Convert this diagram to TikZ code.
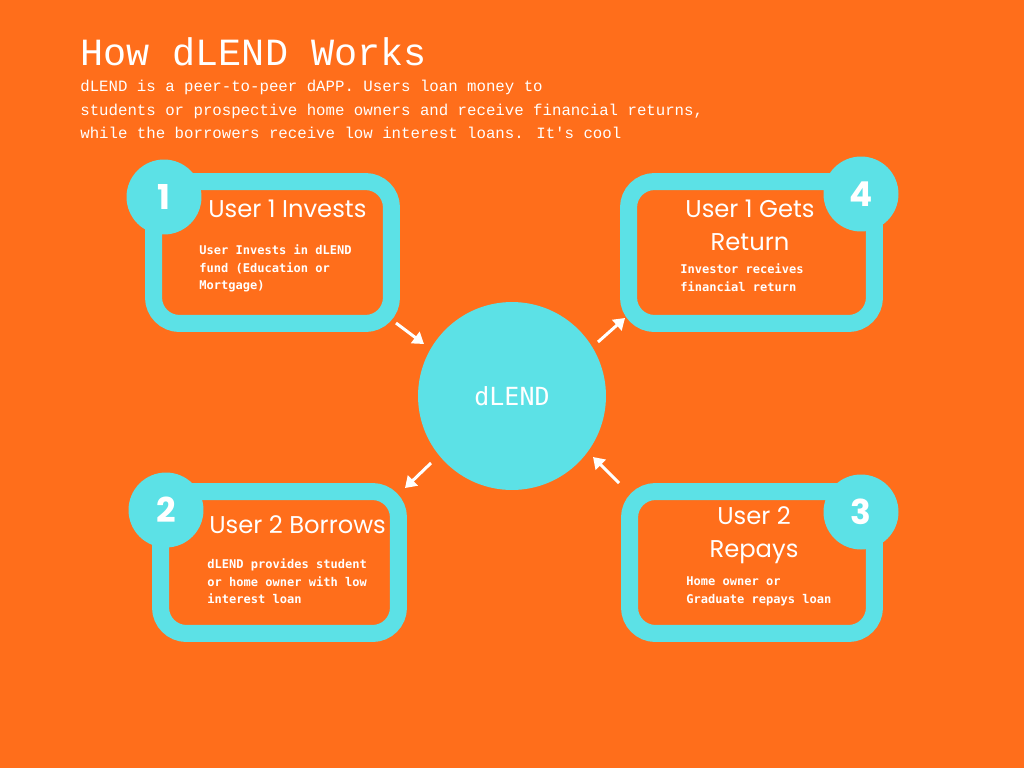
\documentclass[tikz,border=0pt]{standalone}
\usepackage{fontspec}
\setmainfont{Poppins}
\newfontfamily\headfont{Liberation Mono}
\newfontfamily\bodyfont{DejaVu Sans Mono}
\usetikzlibrary{arrows.meta}
\definecolor{dorange}{HTML}{FF6E1B}
\definecolor{dcyan}{HTML}{5CE1E6}

\begin{document}
\begin{tikzpicture}[x=0.02cm, y=-0.02cm,
    stepframe/.style={draw=dcyan, line width=0.34cm, rounded corners=0.52cm, minimum height=2.84cm},
    numdot/.style={circle, fill=dcyan, minimum size=1.5cm, inner sep=0pt, text=white,
                   font=\fontsize{19.5}{19.5}\selectfont\bfseries},
    steptitle/.style={text=white, inner sep=0pt, font=\fontsize{13.8}{18.7}\selectfont},
    stepbody/.style={text=white, inner sep=0pt, align=left, anchor=north west,
                     font=\bodyfont\bfseries\fontsize{6.85}{10.2}\selectfont},
    flow/.style={draw=white, line width=0.06cm, -{Triangle[length=0.22cm,width=0.28cm]}}]
  \fill[dorange] (0,0) rectangle (1024,768);
  \useasboundingbox (0,0) rectangle (1024,768);

  % heading
  \node[text=white, inner sep=0pt, anchor=base west, font=\headfont\fontsize{21.9}{21.9}\selectfont]
    (head) at (80,65) {How dLEND Works};
  \node[text=white, inner sep=0pt, anchor=north west, align=left,
        font=\headfont\fontsize{8.95}{13.3}\selectfont] (intro) at (80,80)
    {dLEND is a peer-to-peer dAPP. Users loan money to\\
     students or prospective home owners and receive financial returns,\\
     while the borrowers receive low interest loans. It's cool};

  % the four steps
  \node[stepframe, minimum width=4.76cm] (box1) at (272.5,252.5) {};
  \node[stepframe, minimum width=4.76cm] (box2) at (279.5,562.5) {};
  \node[stepframe, minimum width=4.90cm] (box3) at (752,562.5) {};
  \node[stepframe, minimum width=4.92cm] (box4) at (751.5,252.5) {};

  \node[numdot] (num1) at (164,197) {1};
  \node[numdot] (num2) at (166,510) {2};
  \node[numdot] (num3) at (861,512) {3};
  \node[numdot] (num4) at (861,194) {4};

  \node[steptitle, anchor=base west] (title1) at (208,217) {User 1 Invests};
  \node[steptitle, anchor=base west] (title2) at (209,533) {User 2 Borrows};
  \node[steptitle, anchor=north, align=center] (title3) at (754,506) {User 2\\Repays};
  \node[steptitle, anchor=north, align=center] (title4) at (750,200) {User 1 Gets\\Return};

  \node[stepbody] (text1) at (199,244) {User Invests in dLEND\\fund (Education or\\Mortgage)};
  \node[stepbody] (text2) at (207,558) {dLEND provides student\\or home owner with low\\interest loan};
  \node[stepbody] (text3) at (686,576) {Home owner or\\Graduate repays loan};
  \node[stepbody] (text4) at (680,263) {Investor receives\\financial return};

  % hub
  \node[circle, fill=dcyan, minimum size=3.76cm, inner sep=0pt, text=white,
        font=\bodyfont\fontsize{14.2}{14.2}\selectfont] (hub) at (512,396) {dLEND};

  \coordinate (in1) at (396,323);  \coordinate (out1) at (424,344);
  \coordinate (in4) at (598,342);  \coordinate (out4) at (625,318);
  \coordinate (in2) at (431,463);  \coordinate (out2) at (405,488);
  \coordinate (in3) at (619,483);  \coordinate (out3) at (593,457);
  \draw[flow] (in1) -- (out1);
  \draw[flow] (in4) -- (out4);
  \draw[flow] (in2) -- (out2);
  \draw[flow] (in3) -- (out3);
\end{tikzpicture}
\end{document}
